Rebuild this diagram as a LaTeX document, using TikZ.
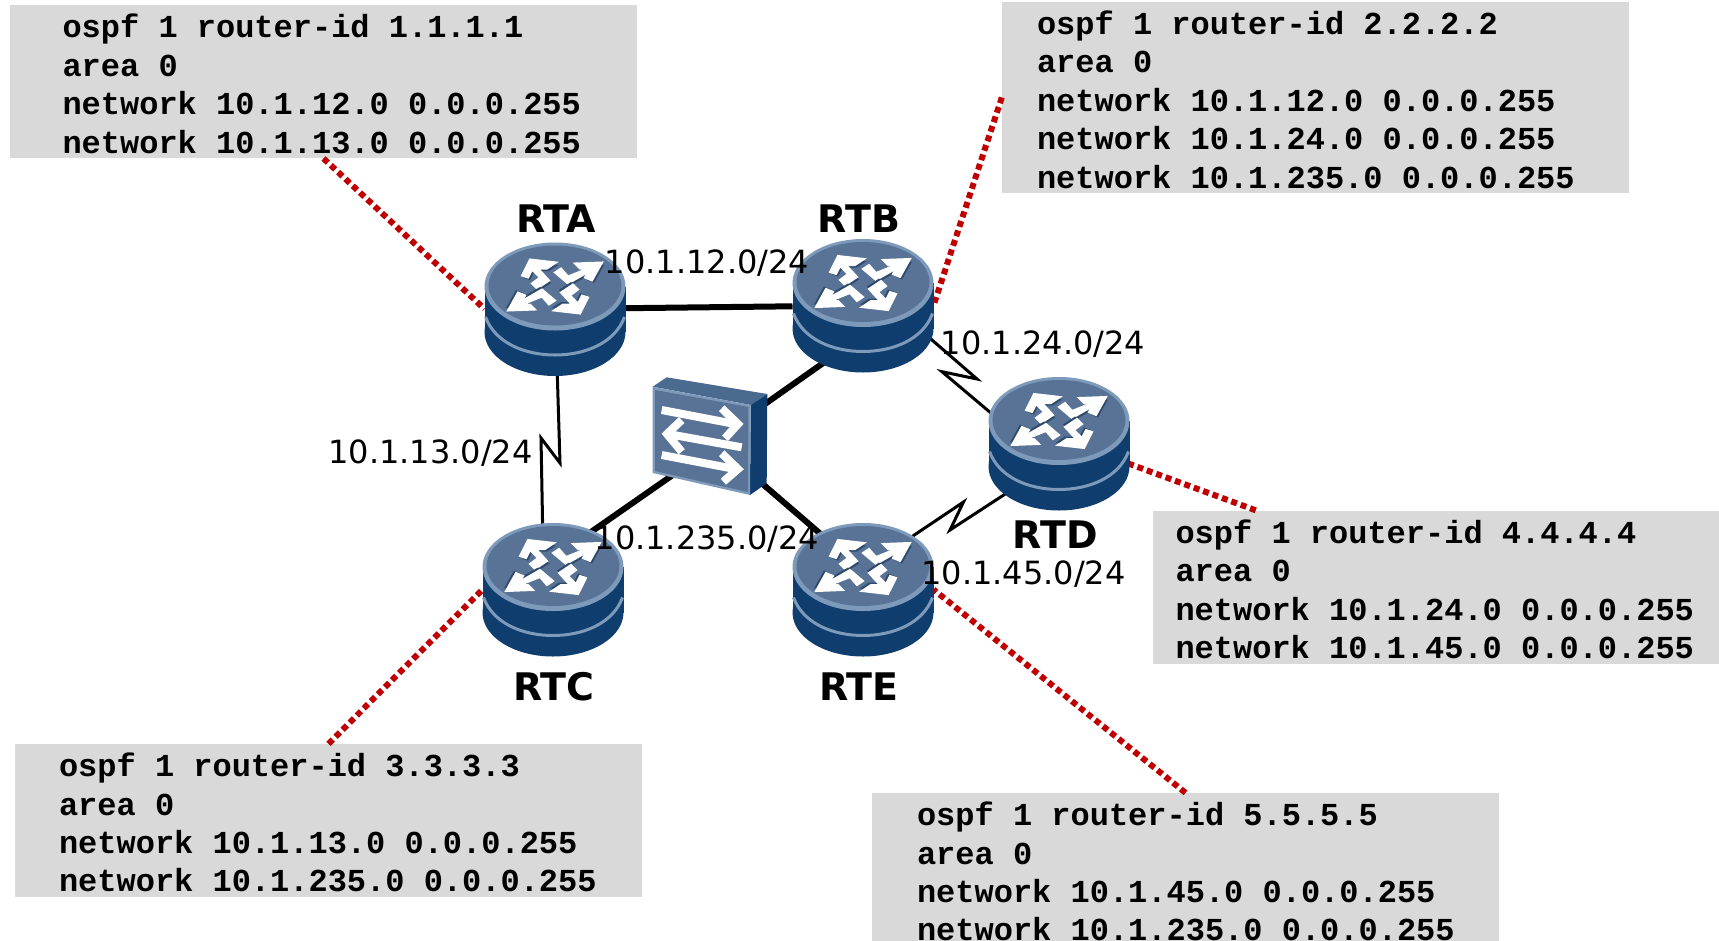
\documentclass[tikz,border=0pt]{standalone}
\usepackage{fontspec}
\usetikzlibrary{shapes.geometric}
\newfontfamily\labelfont{DejaVu Sans}
\newfontfamily\cfgfont{Liberation Mono}
\definecolor{boxgray}{HTML}{D9D9D9}
\definecolor{linkred}{HTML}{C00000}
\definecolor{bodyblue}{HTML}{0F3E6E}
\definecolor{rimblue}{HTML}{7D9ABB}
\definecolor{faceblue}{HTML}{587396}
\definecolor{topblue}{HTML}{4A6A90}
\definecolor{shadeblue}{HTML}{2D4A6C}

\begin{document}
\begin{tikzpicture}[x=1pt,y=-1pt]
\tikzset{router/.style = {shape=ellipse,minimum width=141pt,minimum height=133pt,inner sep=0pt,outer sep=0pt}}
\tikzset{switchbox/.style = {shape=rectangle,minimum width=90pt,minimum height=70pt,inner sep=0pt,outer sep=0pt}}
\tikzset{cfgbox/.style 2 args = {shape=rectangle,fill=boxgray,text width=627pt,inner xsep=0pt,inner ysep=0pt,
	minimum height=#2pt,align=flush left,font=\cfgfont\bfseries\fontsize{32}{38.4}\selectfont,
	execute at begin node={\leftskip=#1pt\rule{0pt}{28pt}}}}
\tikzset{devname/.style = {font=\labelfont\bfseries\fontsize{38}{44}\selectfont}}
\tikzset{subnet/.style = {font=\labelfont\fontsize{32}{38.4}\selectfont}}
\tikzset{ethernet/.style = {line width=6pt}}
\tikzset{serial/.style = {line width=3pt,miter limit=10}}
\tikzset{dotlink/.style = {line width=6pt,linkred,dash pattern=on 6pt off 4pt}}
\tikzset{arrowfill/.style = {fill=white,draw=white,line width=2pt}}
\tikzset{routerpic/.pic = {
	\fill[bodyblue] (-70.5,-22.5) rectangle (70.5,23);
	\fill[bodyblue] (0,23) ellipse (70.5 and 44);
	\draw[rimblue,line width=3pt] (-69.5,8) .. controls (-60,34) and (-30,46) .. (0,46) .. controls (30,46) and (60,34) .. (69.5,8);
	\fill[rimblue] (0,-22.5) ellipse (70.5 and 44);
	\fill[faceblue] (0,-23.5) ellipse (66.5 and 40);
	\foreach \rot in {0,180} {
		\begin{scope}[shift={(0,-22.5)},rotate=\rot]
		\fill[shadeblue,shift={(2,2.5)}] (-25,-27) -- (1,-24) -- (-8,-18) -- (-17,-18) -- (-6,-6) -- (-18,2) -- (-23,-3) -- (-15,-9) -- (-23,-17) -- (-27,-9) -- (-33,-11) -- cycle;
		\fill[shadeblue,shift={(2,2.5)}] (47,-24) -- (20,-23) -- (25,-18) -- (33,-18) -- (13,-10) -- (6,-18) -- (0,-14) -- (13,-3) -- (34,-15) -- (30,-9) -- (37,-6) -- cycle;
		\path[arrowfill] (-25,-27) -- (1,-24) -- (-8,-18) -- (-17,-18) -- (-6,-6) -- (-18,2) -- (-23,-3) -- (-15,-9) -- (-23,-17) -- (-27,-9) -- (-33,-11) -- cycle;
		\path[arrowfill] (47,-24) -- (20,-23) -- (25,-18) -- (33,-18) -- (13,-10) -- (6,-18) -- (0,-14) -- (13,-3) -- (34,-15) -- (30,-9) -- (37,-6) -- cycle;
		\end{scope}
	}
}}
\tikzset{switchpic/.pic = {
	\fill[topblue] (-57.3,-49.3) -- (-43.3,-58.7) -- (57.3,-42) -- (40.7,-31) -- cycle;
	\fill[bodyblue] (40.7,-31) -- (57.3,-42) -- (56.7,47.3) -- (40,59) -- cycle;
	\fill[rimblue] (-57.3,-49.3) -- (40.7,-31) -- (40,59) -- (-57.3,37) -- cycle;
	\fill[faceblue] (-55,-46) -- (38.5,-29) -- (38,56) -- (-55,35) -- cycle;
	\draw[white,line width=8pt] (-48.3,-26) -- (25,-12);
	\draw[white,line width=8pt] (11.7,-27.7) -- (28,-12) -- (15,2.3);
	\draw[white,line width=8pt] (31.7,11.3) -- (-42,-2);
	\draw[white,line width=8pt] (-28.3,-16) -- (-43,-2) -- (-28.3,15.7);
	\draw[white,line width=8pt] (-48.3,19) -- (25,33);
	\draw[white,line width=8pt] (11.7,17.3) -- (28,33) -- (13.3,45.7);
}}
\useasboundingbox (0,0) rectangle (1719,940);
\clip (0,0) rectangle (1719,940);
% config boxes
\node[cfgbox={52.5}{153}] (cfgA) at (323.5,81.75) {ospf 1 router-id 1.1.1.1\\area 0\\network 10.1.12.0 0.0.0.255\\network 10.1.13.0 0.0.0.255};
\node[cfgbox={35}{191}] (cfgB) at (1315.5,97.5) {ospf 1 router-id 2.2.2.2\\area 0\\network 10.1.12.0 0.0.0.255\\network 10.1.24.0 0.0.0.255\\network 10.1.235.0 0.0.0.255};
\node[cfgbox={44}{153}] (cfgC) at (328.5,820.5) {ospf 1 router-id 3.3.3.3\\area 0\\network 10.1.13.0 0.0.0.255\\network 10.1.235.0 0.0.0.255};
\node[cfgbox={22.5}{153}] (cfgD) at (1466.5,587) {ospf 1 router-id 4.4.4.4\\area 0\\network 10.1.24.0 0.0.0.255\\network 10.1.45.0 0.0.0.255};
\node[cfgbox={45}{153}] (cfgE) at (1185.5,869.5) {ospf 1 router-id 5.5.5.5\\area 0\\network 10.1.45.0 0.0.0.255\\network 10.1.235.0 0.0.0.255};

% devices
\node[router] (RTA) at (555,309) {};
\node[router] (RTB) at (863,305.5) {};
\node[router] (RTC) at (553,589.5) {};
\node[router] (RTD) at (1059,443.5) {};
\node[router] (RTE) at (863,589.5) {};
\node[switchbox] (SW) at (710,436) {};

% kinks of the serial lines
\coordinate (kinkAC1) at (560,463);
\coordinate (kinkAC2) at (541,438);
\coordinate (kinkBD1) at (977,379);
\coordinate (kinkBD2) at (942,371.7);
\coordinate (kinkDE1) at (950,530);
\coordinate (kinkDE2) at (963.5,502);

% edges
\draw[ethernet] (RTA) -- (RTB);
\draw[ethernet] (RTB.236) -- (SW.29);
\draw[ethernet] (RTC.57) -- (SW.228);
\draw[ethernet] (RTE.127) -- (SW.-43);
\draw[serial] (RTA.-88) -- (kinkAC1) -- (kinkAC2) -- (RTC.99);
\draw[serial] (RTB.-25) -- (kinkBD1) -- (kinkBD2) -- (RTD.157);
\draw[serial] (RTD.224) -- (kinkDE1) -- (kinkDE2) -- (RTE.48);
\draw[dotlink] (cfgA.south) -- (RTA.west);
\draw[dotlink] (cfgB.west) -- (RTB.east);
\draw[dotlink] (cfgC.north) -- (RTC.west);
\draw[dotlink] (cfgD.160.2) -- (RTD.-16);
\draw[dotlink] (cfgE.north) -- (RTE.east);

% icons
\foreach \dev in {RTA,RTB,RTC,RTD,RTE} {
	\pic at (\dev) {routerpic};
}
\pic at (SW) {switchpic};

% labels
\node[devname] (nameA) at (556,219) {RTA};
\node[devname] (nameB) at (859,219) {RTB};
\node[devname] (nameC) at (554,687) {RTC};
\node[devname] (nameD) at (1055,535) {RTD};
\node[devname] (nameE) at (859,687) {RTE};
\node[subnet] (netAB) at (707,263) {10.1.12.0/24};
\node[subnet] (netBD) at (1043,344) {10.1.24.0/24};
\node[subnet] (netAC) at (430.5,453) {10.1.13.0/24};
\node[subnet] (netSW) at (707,539) {10.1.235.0/24};
\node[subnet] (netDE) at (1023.5,574) {10.1.45.0/24};
\end{tikzpicture}
\end{document}
